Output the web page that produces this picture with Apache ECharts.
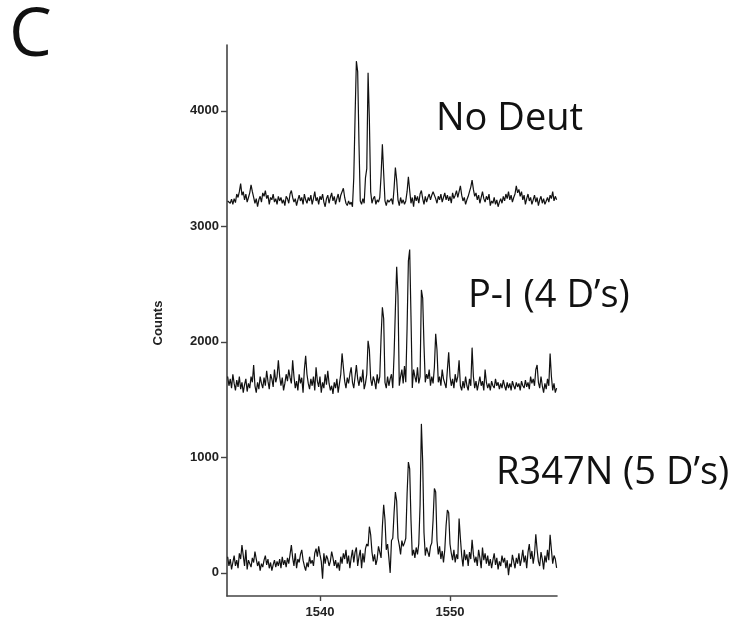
<!DOCTYPE html>
<html>
<head>
<meta charset="utf-8">
<script src="https://cdn.jsdelivr.net/npm/echarts@6/dist/echarts.min.js"></script>
<style>
html,body{margin:0;padding:0;background:#fff;}
#chart{width:729px;height:623px;}
</style>
</head>
<body>
<div id="chart"></div>
<script>
// m/z sampling grid
const mzStart = 1532.9;
const mzStep = 0.1;

const xTicks = [1540, 1550];
const yTicks = [0, 1000, 2000, 3000, 4000];

const traceLabels = ['No Deut', 'P-I (4 D\u2019s)', 'R347N (5 D\u2019s)'];
const panelLetter = 'C';
const yTitle = 'Counts';

// Offset (stacked) counts
const noDeut = [
 3220,3215,3200,3235,3190,3240,3205,3280,3250,3300,
 3370,3270,3300,3230,3280,3210,3250,3290,3360,3300,
 3250,3200,3240,3170,3230,3260,3210,3290,3260,3310,
 3240,3270,3190,3250,3230,3280,3210,3240,3190,3260,
 3220,3250,3200,3230,3180,3260,3240,3200,3280,3310,
 3250,3210,3240,3180,3230,3270,3220,3250,3190,3280,
 3230,3200,3250,3220,3270,3190,3240,3300,3220,3250,
 3190,3260,3230,3280,3210,3170,3240,3270,3200,3250,
 3290,3220,3260,3190,3240,3280,3210,3270,3300,3330,
 3250,3200,3180,3220,3190,3210,3170,3420,3950,4430,
 4340,3720,3220,3190,3240,3200,3420,3500,4330,3920,
 3300,3200,3240,3260,3190,3230,3210,3250,3440,3710,
 3460,3220,3180,3230,3210,3200,3240,3190,3330,3510,
 3400,3230,3180,3250,3200,3230,3190,3220,3300,3430,
 3310,3200,3250,3170,3270,3220,3260,3200,3280,3310,
 3240,3190,3260,3210,3250,3280,3230,3270,3300,3310,
 3240,3200,3260,3230,3280,3210,3250,3290,3230,3270,
 3220,3260,3200,3290,3240,3270,3310,3250,3300,3350,
 3270,3220,3250,3190,3230,3260,3300,3340,3400,3320,
 3260,3290,3230,3270,3200,3250,3300,3240,3210,3260,
 3230,3280,3180,3220,3200,3250,3190,3230,3170,3210,
 3240,3200,3260,3220,3280,3240,3300,3230,3270,3210,
 3250,3280,3350,3290,3320,3260,3300,3230,3270,3190,
 3240,3280,3220,3250,3190,3230,3270,3210,3250,3180,
 3230,3260,3200,3240,3190,3220,3250,3210,3270,3240,
 3300,3220,3260,3230
];

const pI = [
 1700,1620,1680,1600,1720,1640,1580,1670,1610,1700,
 1590,1650,1560,1630,1680,1570,1640,1600,1700,1650,
 1800,1620,1560,1650,1590,1700,1640,1600,1690,1620,
 1750,1660,1590,1720,1680,1610,1760,1650,1700,1840,
 1700,1620,1690,1580,1640,1720,1660,1760,1690,1640,
 1840,1700,1600,1660,1580,1720,1640,1690,1560,1760,
 1880,1720,1640,1590,1680,1620,1700,1580,1780,1660,
 1610,1700,1560,1650,1600,1720,1630,1750,1640,1580,
 1620,1550,1650,1600,1680,1560,1640,1720,1900,1780,
 1660,1600,1690,1640,1720,1780,1650,1600,1700,1800,
 1680,1620,1700,1650,1760,1590,1640,1720,2010,1930,
 1680,1620,1700,1660,1590,1720,1640,1700,2040,2300,
 2200,1650,1600,1700,1620,1680,1720,1600,1890,2280,
 2650,2400,1620,1700,1760,1640,1790,1650,2120,2700,
 2800,2220,1600,1760,1700,1650,1780,1640,1700,2450,
 2380,1970,1650,1720,1680,1760,1620,1700,1640,1780,
 2070,1930,1650,1700,1620,1760,1680,1640,1600,1760,
 1910,1700,1620,1680,1600,1720,1650,1700,1840,1620,
 1580,1660,1600,1700,1620,1580,1680,1620,1950,1700,
 1600,1660,1580,1640,1700,1620,1660,1580,1760,1650,
 1600,1640,1580,1660,1620,1600,1680,1620,1650,1590,
 1640,1600,1670,1620,1580,1650,1600,1640,1580,1660,
 1620,1590,1650,1610,1640,1580,1660,1620,1600,1670,
 1610,1650,1590,1700,1640,1680,1620,1760,1800,1650,
 1600,1700,1620,1560,1640,1590,1680,1620,1900,1700,
 1580,1640,1560,1600
];

const r347n = [
 140,60,120,30,90,150,60,110,40,170,
 120,240,150,60,200,30,110,80,50,130,
 90,185,120,60,100,20,80,50,110,150,
 70,120,40,90,20,70,110,50,100,60,
 120,40,140,70,110,50,130,80,160,240,
 130,60,170,40,120,90,160,200,110,60,
 20,90,50,140,80,110,60,170,210,140,
 230,160,100,-50,170,80,150,120,60,100,
 185,130,60,110,40,90,20,140,80,170,
 120,200,80,150,40,130,200,90,180,220,
 60,140,200,40,170,90,210,250,230,400,
 330,180,100,160,70,120,230,180,130,400,
 590,460,200,250,130,0,280,300,520,700,
 620,300,240,160,280,230,260,300,680,960,
 900,460,150,200,130,220,160,250,590,1290,
 960,350,150,220,180,140,230,260,460,730,
 700,280,160,230,120,190,90,200,410,545,
 520,250,170,110,200,90,160,120,470,300,
 150,55,200,110,160,60,180,120,286,160,
 90,140,60,200,130,40,220,110,170,80,
 150,60,120,40,110,170,70,130,30,100,
 60,150,90,130,40,110,-20,80,50,156,
 100,40,130,80,170,60,120,200,90,150,
 40,180,250,120,190,80,160,335,200,100,
 60,180,120,30,150,90,200,110,330,200,
 80,150,120,43
];

function pairs(vals) {
  return vals.map((v, i) => [+(mzStart + i * mzStep).toFixed(2), v]);
}

const chart = echarts.init(document.getElementById('chart'), null, {renderer: 'canvas'});

const axisColor = '#444';
const labelFont = {fontFamily: 'Liberation Sans, Arial, sans-serif', fontWeight: 'bold', fontSize: 13, color: '#222'};
const bigFont = 'Open Sans, sans-serif';

function lineSeries(name, vals) {
  return {
    name: name,
    type: 'line',
    data: pairs(vals),
    showSymbol: false,
    symbol: 'none',
    smooth: false,
    silent: true,
    animation: false,
    lineStyle: {color: '#111', width: 1.2}
  };
}

chart.setOption({
  backgroundColor: '#ffffff',
  animation: false,
  grid: {left: 227, top: 45, width: 330, height: 551, containLabel: false},
  xAxis: {
    type: 'value',
    min: 1532.85,
    max: 1558.23,
    axisLine: {show: true, onZero: false, lineStyle: {color: axisColor, width: 1.6}},
    axisTick: {show: true, customValues: xTicks, length: 5, lineStyle: {color: axisColor, width: 1.4}},
    axisLabel: Object.assign({customValues: xTicks, margin: 10, formatter: v => String(v)}, labelFont),
    splitLine: {show: false}
  },
  yAxis: {
    type: 'value',
    min: -200,
    max: 4570,
    axisLine: {show: true, onZero: false, lineStyle: {color: axisColor, width: 1.6}},
    axisTick: {show: true, customValues: yTicks, length: 6, lineStyle: {color: axisColor, width: 1.4}},
    axisLabel: Object.assign({customValues: yTicks, margin: 8, formatter: v => String(v)}, labelFont),
    splitLine: {show: false}
  },
  series: [
    lineSeries(traceLabels[0], noDeut),
    lineSeries(traceLabels[1], pI),
    lineSeries(traceLabels[2], r347n)
  ],
  graphic: [
    {type: 'text', left: 9, top: 3, style: {text: panelLetter, font: '400 68px ' + bigFont, fill: '#111'}},
    {type: 'text', x: 436, y: 119, style: {text: traceLabels[0], font: '38px ' + bigFont, fill: '#111', textVerticalAlign: 'middle'}},
    {type: 'text', x: 468, y: 296, style: {text: traceLabels[1], font: '38px ' + bigFont, fill: '#111', textVerticalAlign: 'middle'}},
    {type: 'text', x: 496, y: 473, style: {text: traceLabels[2], font: '38px ' + bigFont, fill: '#111', textVerticalAlign: 'middle'}},
    {type: 'text', x: 158, y: 323, rotation: Math.PI / 2, style: {text: yTitle, font: 'bold 13px Liberation Sans, Arial, sans-serif', fill: '#222', textAlign: 'center', textVerticalAlign: 'middle'}}
  ]
});
</script>
</body>
</html>
